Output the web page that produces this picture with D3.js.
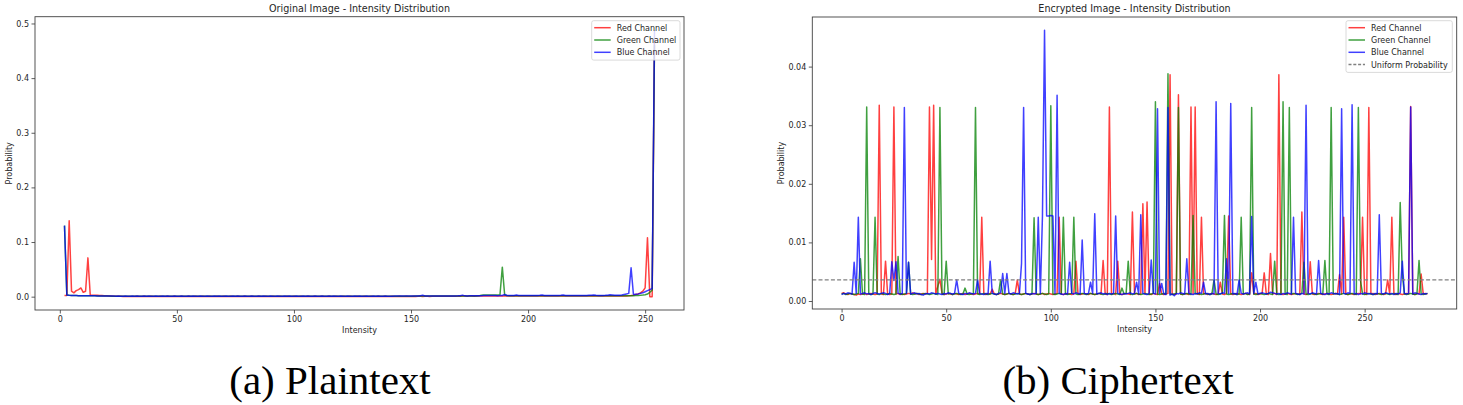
<!DOCTYPE html>
<html><head><meta charset="utf-8">
<script src="https://cdn.jsdelivr.net/npm/d3@7"></script>
<style>
body{margin:0;background:#fff;}
svg{display:block;}
</style></head><body>
<svg id="chart" width="1463" height="405"></svg>
<script>
// ---------------- DATA ----------------
const channelNames = ["Red Channel", "Green Channel", "Blue Channel"];
const uniformLabel = "Uniform Probability";
const titles = ["Original Image - Intensity Distribution", "Encrypted Image - Intensity Distribution"];
const captions = ["(a) Plaintext", "(b) Ciphertext"];
const xLabel = "Intensity";
const yLabel = "Probability";

// Original image histogram, intensities 2..254
const plainIntensity = d3.range(2, 255);
const plainRed = [
.0020,.0020,.139,.010,.007,.011,.013,.016,.008,.010,
.071,.0030,.0026,.0025,.0024,.0022,.0020,.0018,.0015,.0012,
.0010,.0008,.0007,.0006,.0006,.0005,.0005,.0005,.0005,.0005,
.0005,.0006,.0005,.0005,.0006,.0005,.0005,.0006,.0005,.0005,
.0005,.0006,.0005,.0005,.0006,.0005,.0005,.0006,.0005,.0005,
.0006,.0005,.0005,.0006,.0005,.0005,.0006,.0005,.0005,.0006,
.0005,.0005,.0006,.0005,.0005,.0006,.0005,.0005,.0006,.0005,
.0005,.0006,.0005,.0005,.0006,.0005,.0005,.0006,.0005,.0005,
.0006,.0005,.0005,.0006,.0005,.0005,.0006,.0005,.0005,.0006,
.0005,.0005,.0006,.0005,.0005,.0006,.0005,.0005,.0006,.0005,
.0005,.0006,.0005,.0005,.0006,.0005,.0005,.0006,.0005,.0005,
.0006,.0005,.0005,.0006,.0005,.0005,.0006,.0005,.0005,.0006,
.0005,.0005,.0006,.0005,.0005,.0006,.0005,.0005,.0006,.0005,
.0005,.0006,.0005,.0005,.0006,.0005,.0005,.0006,.0005,.0005,
.0006,.0005,.0005,.0006,.0005,.0005,.0006,.0005,.0005,.0006,
.0005,.0006,.0006,.0005,.0006,.0006,.0005,.0006,.0006,.0006,
.0006,.0006,.0007,.0006,.0007,.0007,.0008,.0008,.0009,.0009,
.0010,.0010,.0009,.0010,.0010,.0009,.0010,.0010,.0011,.0010,
.0010,.0011,.0010,.0010,.0011,.0010,.0010,.0011,.0010,.0010,
.0011,.0010,.0010,.0011,.0010,.0010,.0011,.0010,.0010,.0011,
.0010,.0010,.0011,.0010,.0010,.0011,.0010,.0010,.0011,.0010,
.0010,.0011,.0010,.0010,.0011,.0010,.0010,.0011,.0010,.0010,
.0011,.0010,.0011,.0011,.0010,.0011,.0011,.0010,.0011,.0011,
.0011,.0012,.0011,.0012,.0011,.0012,.0011,.0012,.0012,.0012,
.0012,.0015,.0020,.0028,.0040,.0050,.0070,.0100,.0160,.108,
0,0,.470];
const plainGreen = [
.130,.003,.0025,.0022,.0021,.0020,.0019,.0019,.0018,.0018,
.0017,.0016,.0015,.0015,.0014,.0013,.0013,.0012,.0012,.0011,
.0009,.0009,.0008,.0008,.0008,.0008,.0008,.0008,.0008,.0008,
.0008,.0008,.0008,.0008,.0008,.0008,.0008,.0008,.0008,.0008,
.0008,.0008,.0008,.0008,.0008,.0008,.0008,.0008,.0008,.0008,
.0008,.0008,.0008,.0008,.0008,.0008,.0008,.0008,.0008,.0008,
.0008,.0008,.0008,.0008,.0008,.0008,.0008,.0008,.0008,.0008,
.0008,.0008,.0008,.0008,.0008,.0008,.0008,.0008,.0008,.0008,
.0008,.0008,.0008,.0008,.0008,.0008,.0008,.0008,.0008,.0008,
.0008,.0008,.0008,.0008,.0008,.0008,.0008,.0008,.0008,.0008,
.0008,.0008,.0008,.0008,.0008,.0008,.0008,.0008,.0008,.0008,
.0008,.0008,.0008,.0008,.0008,.0008,.0008,.0008,.0008,.0008,
.0008,.0008,.0008,.0008,.0008,.0008,.0008,.0008,.0008,.0008,
.0008,.0008,.0008,.0008,.0008,.0008,.0008,.0008,.0008,.0008,
.0008,.0009,.0009,.0009,.0009,.0009,.0009,.0009,.0009,.0009,
.0010,.0010,.0010,.0010,.0010,.0010,.0010,.0010,.0010,.0010,
.0011,.0011,.0011,.0011,.0011,.0011,.0011,.0011,.0011,.0011,
.0012,.0012,.0013,.0012,.0013,.0014,.0014,.0015,.0028,.0030,
.0032,.0030,.0031,.0030,.0032,.0030,.0035,.054,.0030,.0020,
.0016,.0015,.0016,.0015,.0016,.0015,.0016,.0015,.0016,.0015,
.0016,.0015,.0016,.0015,.0016,.0015,.0016,.0015,.0016,.0015,
.0016,.0015,.0016,.0015,.0016,.0015,.0016,.0015,.0016,.0015,
.0016,.0015,.0016,.0015,.0016,.0015,.0016,.0015,.0016,.0015,
.0016,.0015,.0016,.0015,.0016,.0015,.0016,.0015,.0016,.0015,
.0016,.0017,.0018,.0019,.0020,.0022,.0025,.0030,.0036,.0048,
.0080,.0120,.460];
const plainBlue = [
.130,.003,.0025,.0022,.0021,.0020,.0019,.0019,.0018,.0018,
.0017,.0016,.0015,.0015,.0014,.0013,.0013,.0012,.0012,.0011,
.0010,.0010,.0009,.0010,.0009,.0009,.0010,.0009,.0009,.0010,
.0009,.0010,.0009,.0009,.0010,.0009,.0010,.0009,.0009,.0010,
.0009,.0009,.0010,.0009,.0010,.0009,.0009,.0010,.0009,.0009,
.0010,.0009,.0009,.0010,.0009,.0010,.0009,.0009,.0010,.0009,
.0009,.0010,.0009,.0009,.0010,.0009,.0010,.0009,.0009,.0010,
.0009,.0009,.0010,.0009,.0010,.0009,.0009,.0010,.0009,.0009,
.0010,.0009,.0009,.0010,.0009,.0010,.0009,.0009,.0010,.0009,
.0009,.0010,.0009,.0009,.0010,.0009,.0010,.0009,.0009,.0010,
.0009,.0009,.0010,.0009,.0010,.0009,.0009,.0010,.0009,.0009,
.0010,.0009,.0009,.0010,.0009,.0010,.0009,.0009,.0010,.0009,
.0009,.0010,.0009,.0009,.0010,.0009,.0010,.0009,.0009,.0010,
.0009,.0009,.0010,.0009,.0010,.0009,.0009,.0010,.0009,.0009,
.0009,.0010,.0010,.0011,.0010,.0011,.0011,.0010,.0011,.0012,
.0012,.0011,.0018,.0025,.0013,.0012,.0011,.0012,.0013,.0012,
.0012,.0013,.0012,.0014,.0013,.0012,.0013,.0014,.0015,.0018,
.0028,.0015,.0014,.0015,.0016,.0015,.0017,.0018,.0019,.0020,
.0021,.0020,.0020,.0021,.0020,.0019,.0020,.0021,.0040,.0022,
.0020,.0021,.0022,.0030,.0021,.0020,.0021,.0020,.0021,.0022,
.0021,.0020,.0022,.0025,.0030,.0022,.0021,.0020,.0021,.0022,
.0021,.0022,.0025,.0030,.0023,.0022,.0021,.0022,.0023,.0022,
.0021,.0022,.0023,.0022,.0024,.0026,.0031,.0024,.0023,.0022,
.0023,.0024,.0028,.0035,.0032,.0026,.0025,.0027,.0030,.0040,
.0050,.0060,.053,.0040,.0045,.0050,.0060,.0070,.0090,.0110,
.0130,.0150,.488];

// Encrypted image histogram, intensities 0..280
const cipherIntensity = d3.range(0, 281);
const cipherRed = [
.0013,.0014,.0012,.0011,.0013,.0012,.0011,.0010,.0012,.0011,.0012,.0013,.0011,.0012,.0013,.0012,.0011,.0012,.0334,.0012,
.0011,.0068,.0012,.0011,.0012,.0331,.0012,.0013,.0011,.0012,.0011,.0012,.0013,.0012,.0014,.0012,.0013,.0011,.0012,.0013,
.0012,.0013,.0331,.0071,.0334,.0012,.0025,.0037,.0013,.0011,.0012,.0013,.0012,.0011,.0013,.0012,.0011,.0012,.0013,.0011,
.0012,.0013,.0012,.0011,.0012,.0013,.0012,.0143,.0012,.0011,.0013,.0012,.0020,.0012,.0011,.0012,.0013,.0012,.0011,.0012,
.0013,.0012,.0011,.0013,.0036,.0012,.0011,.0012,.0013,.0012,.0011,.0012,.0013,.0012,.0011,.0012,.0013,.0011,.0012,.0013,
.0012,.0011,.0012,.0013,.0143,.0012,.0011,.0012,.0013,.0012,.0011,.0012,.0068,.0012,.0011,.0012,.0013,.0012,.0011,.0013,
.0012,.0011,.0012,.0013,.0012,.0069,.0012,.0011,.0331,.0012,.0013,.0011,.0068,.0012,.0011,.0012,.0013,.0012,.0011,.0152,
.0012,.0013,.0011,.0012,.0166,.0012,.0169,.0012,.0011,.0013,.0012,.0011,.0030,.0012,.0011,.0012,.0013,.0386,.0012,.0011,
.0012,.0352,.0012,.0011,.0013,.0012,.0011,.0331,.0012,.0331,.0012,.0011,.0143,.0012,.0013,.0011,.0012,.0013,.0012,.0011,
.0012,.0032,.0012,.0011,.0013,.0145,.0012,.0011,.0012,.0013,.0012,.0011,.0012,.0013,.0012,.0011,.0048,.0012,.0013,.0011,
.0012,.0013,.0048,.0012,.0011,.0081,.0012,.0013,.0011,.0386,.0012,.0011,.0012,.0013,.0012,.0011,.0012,.0013,.0012,.0011,
.0152,.0012,.0011,.0013,.0067,.0012,.0011,.0012,.0013,.0012,.0011,.0012,.0013,.0012,.0011,.0012,.0013,.0012,.0045,.0012,
.0143,.0012,.0011,.0013,.0012,.0011,.0012,.0013,.0012,.0143,.0012,.0011,.0330,.0012,.0013,.0011,.0012,.0013,.0012,.0011,
.0012,.0036,.0012,.0143,.0012,.0011,.0013,.0012,.0011,.0012,.0013,.0012,.0332,.0012,.0011,.0013,.0012,.0046,.0012,.0013,
.0012];
const cipherGreen = [
.0012,.0013,.0011,.0012,.0013,.0012,.0011,.0012,.0013,.0072,.0012,.0011,.0331,.0012,.0011,.0012,.0143,.0012,.0011,.0013,
.0012,.0011,.0012,.0013,.0012,.0011,.0012,.0076,.0012,.0011,.0012,.0013,.0066,.0012,.0011,.0012,.0013,.0012,.0011,.0012,
.0013,.0012,.0011,.0012,.0013,.0012,.0011,.0330,.0012,.0011,.0068,.0012,.0013,.0011,.0012,.0013,.0012,.0011,.0012,.0022,
.0012,.0011,.0012,.0013,.0330,.0012,.0011,.0012,.0013,.0012,.0011,.0012,.0013,.0012,.0011,.0012,.0036,.0012,.0011,.0012,
.0013,.0012,.0011,.0012,.0013,.0012,.0011,.0012,.0013,.0012,.0011,.0012,.0142,.0012,.0011,.0012,.0013,.0012,.0011,.0012,
.0333,.0012,.0011,.0012,.0013,.0012,.0143,.0012,.0011,.0012,.0013,.0143,.0012,.0011,.0012,.0013,.0012,.0011,.0012,.0013,
.0012,.0011,.0012,.0013,.0012,.0011,.0012,.0013,.0012,.0011,.0012,.0013,.0012,.0011,.0022,.0012,.0013,.0068,.0012,.0011,
.0012,.0013,.0012,.0011,.0012,.0013,.0012,.0011,.0012,.0013,.0340,.0012,.0011,.0012,.0013,.0012,.0388,.0012,.0011,.0012,
.0013,.0330,.0012,.0011,.0012,.0013,.0012,.0011,.0146,.0012,.0013,.0012,.0011,.0012,.0013,.0012,.0011,.0012,.0036,.0012,
.0011,.0012,.0013,.0146,.0012,.0011,.0012,.0013,.0012,.0011,.0012,.0143,.0012,.0013,.0011,.0012,.0330,.0012,.0011,.0012,
.0013,.0012,.0011,.0012,.0013,.0012,.0011,.0068,.0012,.0011,.0012,.0340,.0012,.0011,.0330,.0012,.0013,.0012,.0011,.0012,
.0013,.0066,.0012,.0011,.0012,.0013,.0012,.0011,.0012,.0013,.0012,.0069,.0012,.0011,.0330,.0012,.0013,.0012,.0011,.0012,
.0013,.0012,.0011,.0012,.0013,.0012,.0011,.0330,.0035,.0012,.0011,.0012,.0013,.0012,.0011,.0012,.0013,.0012,.0011,.0012,
.0013,.0012,.0011,.0012,.0013,.0012,.0011,.0168,.0046,.0012,.0011,.0012,.0013,.0012,.0011,.0012,.0069,.0012,.0011,.0012,
.0013];
const cipherBlue = [
.0011,.0013,.0012,.0014,.0013,.0012,.0066,.0013,.0143,.0012,.0013,.0014,.0012,.0013,.0011,.0013,.0014,.0013,.0012,.0013,
.0014,.0013,.0011,.0013,.0067,.0035,.0067,.0013,.0012,.0013,.0330,.0013,.0066,.0012,.0013,.0014,.0012,.0013,.0011,.0010,
.0012,.0013,.0012,.0014,.0013,.0012,.0013,.0012,.0011,.0013,.0012,.0014,.0013,.0012,.0013,.0036,.0013,.0012,.0011,.0013,
.0012,.0014,.0013,.0012,.0013,.0036,.0013,.0012,.0011,.0013,.0012,.0068,.0013,.0012,.0011,.0013,.0014,.0047,.0013,.0047,
.0013,.0012,.0014,.0013,.0012,.0013,.0064,.0330,.0013,.0012,.0011,.0013,.0012,.0013,.0143,.0013,.0144,.0462,.0145,.0145,
.0146,.0145,.0013,.0351,.0013,.0012,.0011,.0013,.0012,.0066,.0013,.0012,.0014,.0013,.0012,.0104,.0013,.0012,.0013,.0032,
.0013,.0149,.0012,.0013,.0014,.0012,.0013,.0011,.0013,.0012,.0013,.0145,.0013,.0012,.0011,.0013,.0012,.0013,.0014,.0012,
.0013,.0032,.0012,.0147,.0013,.0012,.0011,.0013,.0070,.0013,.0012,.0328,.0013,.0030,.0012,.0011,.0330,.0010,.0012,.0009,
.0013,.0012,.0014,.0013,.0012,.0072,.0013,.0012,.0011,.0013,.0012,.0014,.0013,.0032,.0012,.0013,.0011,.0013,.0012,.0340,
.0013,.0012,.0014,.0013,.0072,.0013,.0337,.0012,.0013,.0011,.0036,.0013,.0012,.0013,.0014,.0012,.0144,.0013,.0032,.0012,
.0013,.0014,.0013,.0012,.0013,.0015,.0014,.0013,.0012,.0013,.0011,.0013,.0012,.0014,.0013,.0012,.0143,.0013,.0012,.0011,
.0013,.0012,.0334,.0013,.0012,.0014,.0013,.0012,.0069,.0013,.0012,.0011,.0013,.0012,.0014,.0013,.0012,.0013,.0011,.0328,
.0013,.0012,.0014,.0013,.0335,.0012,.0013,.0011,.0013,.0012,.0014,.0013,.0012,.0013,.0011,.0013,.0012,.0147,.0013,.0012,
.0014,.0013,.0012,.0013,.0011,.0013,.0012,.0014,.0068,.0013,.0012,.0013,.0331,.0012,.0014,.0013,.0012,.0011,.0013,.0012,
.0013];
const uniformProbability = 0.0036;

const plainXTicks = [0, 50, 100, 150, 200, 250];
const plainYTicks = [0.0, 0.1, 0.2, 0.3, 0.4, 0.5];
const cipherXTicks = [0, 50, 100, 150, 200, 250];
const cipherYTicks = [0.00, 0.01, 0.02, 0.03, 0.04];

// ---------------- STYLE / LAYOUT ----------------
const channelColors = ["#ff0000", "#008000", "#0000ff"];
const svg = d3.select("#chart");
const textColor = "#262626";
const sansFont = "'DejaVu Sans', sans-serif";
const serifFont = "'Liberation Serif', 'Times New Roman', serif";

function check(name, arr, xs){ if (arr.length !== xs.length) console.error(name + " length " + arr.length + " != " + xs.length); }
check("plainRed", plainRed, plainIntensity); check("plainGreen", plainGreen, plainIntensity); check("plainBlue", plainBlue, plainIntensity);
check("cipherRed", cipherRed, cipherIntensity); check("cipherGreen", cipherGreen, cipherIntensity); check("cipherBlue", cipherBlue, cipherIntensity);

function drawPanel(o, idx){
  const xs = o.xs;
  const xmin = d3.min(xs), xmax = d3.max(xs), xpad = (xmax - xmin) * 0.05;
  const all = o.series.flat();
  const ymin = d3.min(all), ymax = d3.max(all), ypad = (ymax - ymin) * 0.05;
  const x = d3.scaleLinear().domain([xmin - xpad, xmax + xpad]).range([o.L, o.R]);
  const y = d3.scaleLinear().domain([ymin - ypad, ymax + ypad]).range([o.B, o.T]);
  const g = svg.append("g");

  const clipId = "clip" + idx;
  g.append("clipPath").attr("id", clipId).append("rect")
    .attr("x", o.L).attr("y", o.T).attr("width", o.R - o.L).attr("height", o.B - o.T);
  const plot = g.append("g").attr("clip-path", `url(#${clipId})`);

  const line = d3.line().x((d, i) => x(xs[i])).y(d => y(d));
  o.series.forEach((s, k) => {
    plot.append("path").datum(s).attr("d", line)
      .attr("fill", "none").attr("stroke", channelColors[k])
      .attr("stroke-width", 1.5).attr("stroke-opacity", 0.75)
      .attr("stroke-linejoin", "round");
  });
  if (o.uniform != null) {
    plot.append("line").attr("x1", o.L).attr("x2", o.R)
      .attr("y1", y(o.uniform)).attr("y2", y(o.uniform))
      .attr("stroke", "#808080").attr("stroke-width", 1.2).attr("stroke-dasharray", "4,2.2");
  }

  // axes
  const ax = g.append("g").attr("transform", `translate(0,${o.B})`)
    .call(d3.axisBottom(x).tickValues(o.xTicks).tickSize(3.5).tickPadding(3).tickFormat(d3.format("d")));
  const ay = g.append("g").attr("transform", `translate(${o.L},0)`)
    .call(d3.axisLeft(y).tickValues(o.yTicks).tickSize(3.5).tickPadding(2.5).tickFormat(d3.format(o.yFmt)));
  [ax, ay].forEach(a => {
    a.attr("font-family", null).attr("font-size", null);
    a.select(".domain").remove();
    a.selectAll(".tick line").attr("stroke", "#333").attr("stroke-width", 0.8);
    a.selectAll(".tick text").attr("fill", textColor).style("font-size", "8px").style("font-family", sansFont);
  });

  g.append("rect").attr("x", o.L).attr("y", o.T).attr("width", o.R - o.L).attr("height", o.B - o.T)
    .attr("fill", "none").attr("stroke", "#404040").attr("stroke-width", 0.9);

  g.append("text").attr("x", (o.L + o.R) / 2).attr("y", o.T - 5).attr("text-anchor", "middle")
    .style("font-size", "9.6px").style("font-family", sansFont).attr("fill", textColor).text(o.title);
  g.append("text").attr("x", (o.L + o.R) / 2).attr("y", o.B + 22.5).attr("text-anchor", "middle")
    .style("font-size", "8px").style("font-family", sansFont).attr("fill", textColor).text(xLabel);
  g.append("text").attr("transform", `translate(${o.yLabelX},${(o.T + o.B) / 2}) rotate(-90)`)
    .attr("text-anchor", "middle").style("font-size", "8px").style("font-family", sansFont)
    .attr("fill", textColor).text(yLabel);

  // legend
  const items = channelNames.map((n, k) => ({label: n, color: channelColors[k], dash: null}));
  if (o.uniform != null) items.push({label: uniformLabel, color: "#808080", dash: "3,1.8"});
  const lg = g.append("g");
  lg.append("rect").attr("x", o.legX).attr("y", o.legY).attr("width", o.legW)
    .attr("height", items.length * 12.3 + 2.5).attr("rx", 2)
    .attr("fill", "#fff").attr("fill-opacity", 0.8).attr("stroke", "#d0d0d0").attr("stroke-width", 0.8);
  items.forEach((it, k) => {
    const cy = o.legY + 7 + k * 12.3;
    lg.append("line").attr("x1", o.legX + 2.5).attr("x2", o.legX + 19).attr("y1", cy).attr("y2", cy)
      .attr("stroke", it.color).attr("stroke-width", 1.5).attr("stroke-opacity", it.dash ? 1 : 0.75)
      .attr("stroke-dasharray", it.dash);
    lg.append("text").attr("x", o.legX + 25).attr("y", cy + 2.9)
      .style("font-size", "8px").style("font-family", sansFont)
      .attr("fill", textColor).text(it.label);
  });

  svg.append("text").attr("x", o.capX).attr("y", 394).attr("text-anchor", "middle")
    .style("font-family", serifFont).style("font-size", "41px")
    .attr("fill", "#000").text(o.caption);
}

drawPanel({
  xs: plainIntensity, series: [plainRed, plainGreen, plainBlue],
  L: 35, R: 684, T: 16.7, B: 310,
  xTicks: plainXTicks, yTicks: plainYTicks, yFmt: ".1f",
  title: titles[0], caption: captions[0], capX: 330, yLabelX: 12,
  legX: 591.7, legY: 20.7, legW: 88.3, uniform: null
}, 0);

drawPanel({
  xs: cipherIntensity, series: [cipherRed, cipherGreen, cipherBlue],
  L: 812.3, R: 1456.7, T: 17, B: 309,
  xTicks: cipherXTicks, yTicks: cipherYTicks, yFmt: ".2f",
  title: titles[1], caption: captions[1], capX: 1118, yLabelX: 784,
  legX: 1346, legY: 20.7, legW: 106.3, uniform: uniformProbability
}, 1);
</script>
</body></html>
